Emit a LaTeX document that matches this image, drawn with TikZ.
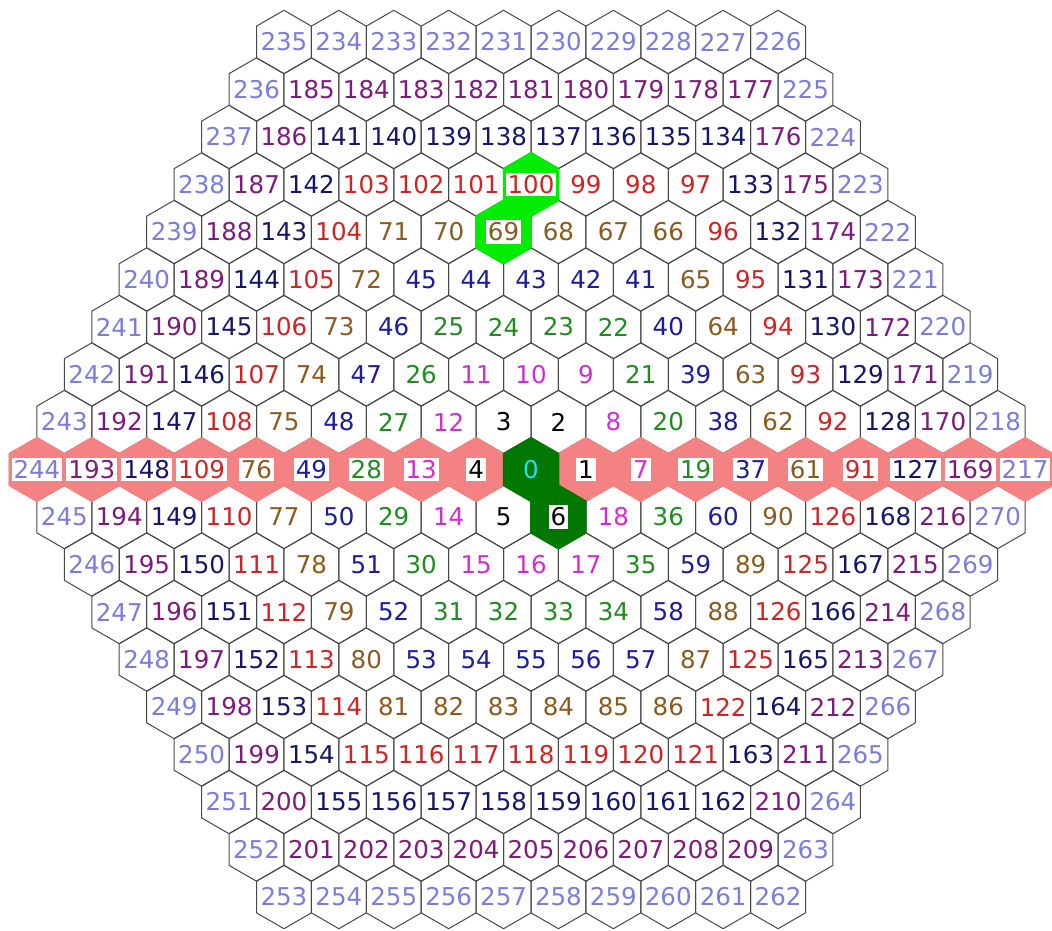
\documentclass[tikz,border=0pt]{standalone}
\usepackage{fontspec}
\setmainfont{DejaVu Sans}
\definecolor{gridc}{HTML}{484848}
\definecolor{ring0}{HTML}{22E0F0}
\definecolor{ring1}{HTML}{000000}
\definecolor{ring2}{HTML}{D42CD4}
\definecolor{ring3}{HTML}{1E8C1E}
\definecolor{ring4}{HTML}{1C1C9C}
\definecolor{ring5}{HTML}{8A5A1E}
\definecolor{ring6}{HTML}{D02424}
\definecolor{ring7}{HTML}{161668}
\definecolor{ring8}{HTML}{7E1A7C}
\definecolor{ring9}{HTML}{7C7CDC}
\definecolor{band}{HTML}{F48282}
\definecolor{dkgreen}{HTML}{007800}
\definecolor{ltgreen}{HTML}{00EC00}
\def\DX{54.9}
\def\DY{47.5}
\def\R{31.7}
\def\XO{531}
\def\YO{469.5}
\newcommand\hexfill[3]{\fill[#1,draw=#1,line width=1.6pt,line join=round] (#2,#3) +(30:\R) -- +(90:\R) -- +(150:\R) -- +(210:\R) -- +(270:\R) -- +(330:\R) -- cycle;}
\tikzset{
  gridline/.style={draw=gridc,line width=1pt,line join=round},
  lab/.style={font=\fontsize{24.5}{26}\selectfont,inner xsep=2pt,inner ysep=2.5pt},
  wb0/.style={},
  wb1/.style={fill=white}
}
\begin{document}
\begin{tikzpicture}[x=1pt,y=-1pt]
\useasboundingbox[fill=white] (0,0) rectangle (1052,930);
% grid outlines
\foreach \r in {-9,...,9}{
  \pgfmathtruncatemacro\qmin{max(-9,-9-\r)}
  \pgfmathtruncatemacro\qmax{min(9,9-\r)}
  \foreach \q in {\qmin,...,\qmax}{
    \pgfmathsetmacro\xx{\XO+\DX*(\q+\r/2)}
    \pgfmathsetmacro\yy{\YO+\DY*\r}
    \draw[gridline] (\xx,\yy) +(30:\R) -- +(90:\R) -- +(150:\R) -- +(210:\R) -- +(270:\R) -- +(330:\R) -- cycle;
  }
}
% salmon band (row 0)
\foreach \q in {-9,...,9}{
  \pgfmathsetmacro\xx{\XO+\DX*\q}
  \hexfill{band}{\xx}{\YO}
}
% dark green cells 0 and 6
\pgfmathsetmacro\xa{\XO+\DX*0.5}
\pgfmathsetmacro\ya{\YO+\DY}
\hexfill{dkgreen}{\XO}{\YO}
\hexfill{dkgreen}{\xa}{\ya}
% bright green cells 100 and 69
\pgfmathsetmacro\xb{\XO-\DX*0.5}
\pgfmathsetmacro\yb{\YO-5*\DY}
\pgfmathsetmacro\yc{\YO-6*\DY}
\hexfill{ltgreen}{\XO}{\yc}
\hexfill{ltgreen}{\xb}{\yb}
% labels
\foreach \r/\labs in {
-9/{235,234,233,232,231,230,229,228,227,226},
-8/{236,185,184,183,182,181,180,179,178,177,225},
-7/{237,186,141,140,139,138,137,136,135,134,176,224},
-6/{238,187,142,103,102,101,100,99,98,97,133,175,223},
-5/{239,188,143,104,71,70,69,68,67,66,96,132,174,222},
-4/{240,189,144,105,72,45,44,43,42,41,65,95,131,173,221},
-3/{241,190,145,106,73,46,25,24,23,22,40,64,94,130,172,220},
-2/{242,191,146,107,74,47,26,11,10,9,21,39,63,93,129,171,219},
-1/{243,192,147,108,75,48,27,12,3,2,8,20,38,62,92,128,170,218},
0/{244,193,148,109,76,49,28,13,4,0,1,7,19,37,61,91,127,169,217},
1/{245,194,149,110,77,50,29,14,5,6,18,36,60,90,126,168,216,270},
2/{246,195,150,111,78,51,30,15,16,17,35,59,89,125,167,215,269},
3/{247,196,151,112,79,52,31,32,33,34,58,88,126,166,214,268},
4/{248,197,152,113,80,53,54,55,56,57,87,125,165,213,267},
5/{249,198,153,114,81,82,83,84,85,86,122,164,212,266},
6/{250,199,154,115,116,117,118,119,120,121,163,211,265},
7/{251,200,155,156,157,158,159,160,161,162,210,264},
8/{252,201,202,203,204,205,206,207,208,209,263},
9/{253,254,255,256,257,258,259,260,261,262}}{
  \pgfmathtruncatemacro\qmin{max(-9,-9-\r)}
  \pgfmathtruncatemacro\ri{\r+9}
  \foreach \lab [count=\i from 0] in \labs {
    \pgfmathtruncatemacro\q{\qmin+\i}
    \pgfmathsetmacro\xx{\XO+\DX*(\q+\r/2)}
    \pgfmathsetmacro\yy{\YO+\DY*\r}
    \pgfmathtruncatemacro\k{max(abs(\q),abs(\r),abs(\q+\r))}
    \pgfmathtruncatemacro\wb{((\r==0)&&(\q!=0))||((\q==0)&&(\r==1))||((\q==2)&&(\r==-5))||((\q==3)&&(\r==-6))}
    \node[lab,text=ring\k,wb\wb] (hex\ri-\i) at (\xx,\yy) {\lab};
  }
}
\end{tikzpicture}
\end{document}
